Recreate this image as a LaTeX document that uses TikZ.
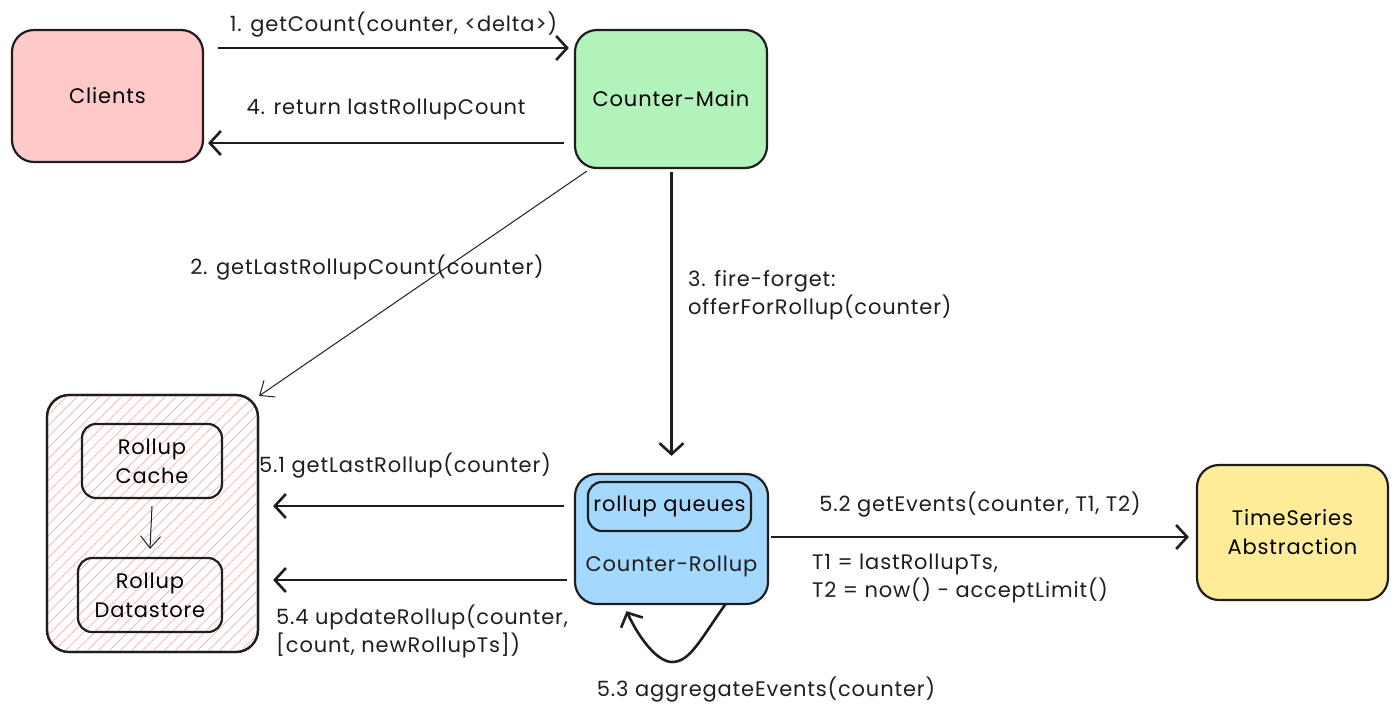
\documentclass[tikz,border=0pt]{standalone}
\usepackage{fontspec}
\setmainfont{Poppins}[LetterSpace=4]
\usetikzlibrary{arrows.meta}
\definecolor{cpink}{HTML}{FFC9C9}
\definecolor{cgreen}{HTML}{B2F2BB}
\definecolor{cblue}{HTML}{A5D8FF}
\definecolor{cyellow}{HTML}{FFEC99}
\definecolor{hatch}{HTML}{FFB8B8}
\definecolor{ink}{HTML}{1E1E1E}
\begin{document}
\begin{tikzpicture}[x=1pt,y=-1pt,
  box/.style={draw=ink, line width=2.2pt, rounded corners=22pt, inner sep=0pt, align=center,
    font=\fontsize{21}{29}\selectfont},
  ibox/.style={draw=ink, line width=2.2pt, rounded corners=14pt, inner sep=0pt, align=center,
    font=\fontsize{21}{29}\selectfont},
  lbl/.style={inner sep=0pt, font=\fontsize{21}{28}\selectfont, text=ink},
  arr/.style={draw=ink, line width=2.6pt, -{Straight Barb[length=11pt,width=24pt,line width=2.6pt]}},
  thinarr/.style={draw=ink, line width=1pt, -{Straight Barb[length=12pt,width=20pt,line width=1pt]}}]
\useasboundingbox (0,0) rectangle (1400,718);

% nodes
\node[box, fill=cpink, minimum width=191pt, minimum height=132pt] (clients) at (107.5,96) {Clients};
\node[box, fill=cgreen, minimum width=192pt, minimum height=138pt] (main) at (671,99) {Counter-Main};
\node[box, fill=cblue, minimum width=193pt, minimum height=130pt] (crollup) at (671.5,539) {};
\node[ibox, minimum width=163pt, minimum height=49pt] (queues) at (669.5,506.5) {rollup queues};
\node[lbl] (crlabel) at (671.5,566) {Counter-Rollup};
\node[box, fill=cyellow, minimum width=191pt, minimum height=135pt] (ts) at (1292.5,532.5) {TimeSeries\\Abstraction};

% hatched store
\node[box, minimum width=211pt, minimum height=257pt] (store) at (152.5,523.5) {};
\begin{scope}
  \clip[rounded corners=22pt] (47,395) rectangle (258,652);
  \foreach \t in {-280,-269,...,220} {
    \draw[hatch, line width=0.9pt] (47+\t,652) -- (47+\t+257,395);
  }
\end{scope}
\draw[ink, line width=2.2pt, rounded corners=22pt] (47,395) rectangle (258,652);
\node[ibox, minimum width=140pt, minimum height=74pt] (cache) at (152,461) {Rollup\\Cache};
\node[ibox, minimum width=144pt, minimum height=74pt] (dstore) at (150,595) {Rollup\\Datastore};

% connectors
\draw[arr] ([xshift=14pt,yshift=48pt]clients.east) -- ([xshift=-5pt,yshift=51pt]main.west)
  node[lbl, midway, above=10pt] (l1) {1. getCount(counter, <delta>)};
\draw[arr] ([xshift=-10pt,yshift=-44pt]main.west) -- ([xshift=4pt,yshift=-47pt]clients.east)
  node[lbl, midway, above=22pt] (l4) {4. return lastRollupCount};
\draw[thinarr] ([xshift=13pt,yshift=-2pt]main.south west) -- ([xshift=0pt,yshift=-2pt]store.north east);
\node[lbl] (l2) at (367,268) {2. getLastRollupCount(counter)};
\draw[arr] ([xshift=0.5pt,yshift=-3pt]main.south) -- ([yshift=17pt]crollup.north);
\node[lbl, anchor=west, align=left] (l3) at (688,295) {3. fire-forget:\\offerForRollup(counter)};
\draw[arr] ([xshift=-10pt,yshift=33pt]crollup.west) -- ([xshift=14pt,yshift=17.5pt]store.east);
\node[lbl] (l51) at (405,466) {5.1 getLastRollup(counter)};
\draw[arr] ([xshift=-7pt,yshift=-41pt]crollup.west) -- ([xshift=14pt,yshift=-56.5pt]store.east);
\node[lbl, anchor=west, align=left] (l54) at (276,631) {5.4 updateRollup(counter,\\{[count, newRollupTs])}};
\draw[arr] ([xshift=2pt,yshift=2pt]crollup.east) -- ([xshift=-7pt,yshift=-4.5pt]ts.west);
\node[lbl] (l52) at (980,505) {5.2 getEvents(counter, T1, T2)};
\node[lbl, anchor=west, align=left] (lt) at (812,578) {T1 = lastRollupTs,\\T2 = now() - acceptLimit()};
\draw[arr] ([xshift=54pt,yshift=1pt]crollup.south) .. controls (700,640) and (690,662) .. (672,662)
  .. controls (658,662) and (640,640) .. ([xshift=-45pt,yshift=-6pt]crollup.south);
\node[lbl] (l53) at (766,690) {5.3 aggregateEvents(counter)};
\draw[thinarr] ([yshift=-7pt]cache.south) -- ([yshift=8pt]dstore.north);
\end{tikzpicture}
\end{document}
